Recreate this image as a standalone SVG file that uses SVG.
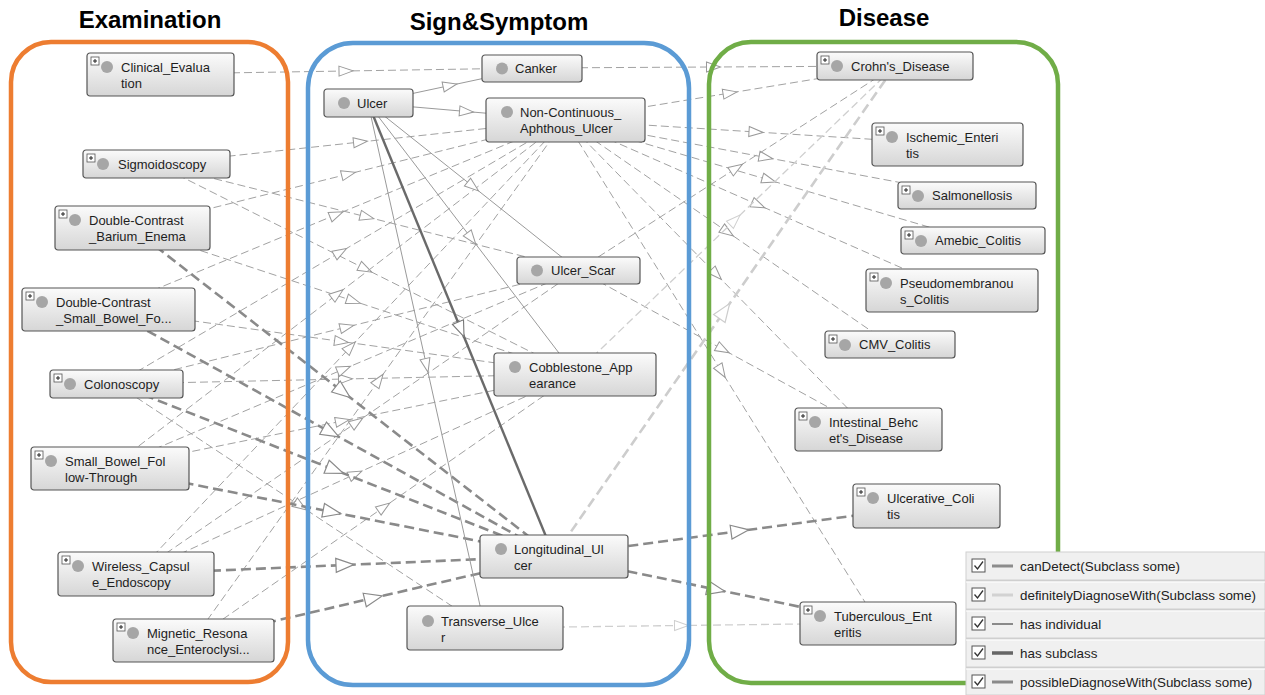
<svg xmlns="http://www.w3.org/2000/svg" xmlns:xlink="http://www.w3.org/1999/xlink" width="1265" height="695" viewBox="0 0 1265 695">
<style>
.cd{fill:none;stroke:#a2a2a2;stroke-width:1;stroke-dasharray:8 4;marker-mid:url(#ma)}
.cdh{fill:none;stroke:#8a8a8a;stroke-width:2.6;stroke-dasharray:10 5;marker-mid:url(#mah)}
.dd{fill:none;stroke:#cfcfcf;stroke-width:1.3;stroke-dasharray:8 4;marker-mid:url(#ml)}
.ddh{fill:none;stroke:#cdcdcd;stroke-width:2.6;stroke-dasharray:10 5;marker-mid:url(#mlh)}
.sc{fill:none;stroke:#9a9a9a;stroke-width:1;marker-mid:url(#ma)}
.sch{fill:none;stroke:#6a6a6a;stroke-width:2.4;marker-mid:url(#mdh)}
.box{fill:url(#g);stroke:#555;stroke-width:1.2}
.dot{fill:#a6a6a6}
.t{font-family:"Liberation Sans",Arial,sans-serif;font-size:13px;fill:#1e1e1e}
.title{font-family:"Liberation Sans",Arial,sans-serif;font-size:24px;font-weight:bold;fill:#000;text-anchor:middle}
.frame{fill:none;stroke-width:4.5}
.lt{font-family:"Liberation Sans",Arial,sans-serif;font-size:13.4px;fill:#222}
</style>
<defs>
<linearGradient id="g" x1="0" y1="0" x2="0" y2="1">
<stop offset="0" stop-color="#fbfbfb"/>
<stop offset="1" stop-color="#d6d6d6"/>
</linearGradient>
<marker id="ma" markerUnits="userSpaceOnUse" markerWidth="18" markerHeight="14" viewBox="-9 -7 18 14" refX="0" refY="0" orient="auto">
<path d="M-7,-5 L7,0 L-7,5 Z" fill="#fff" stroke="#999" stroke-width="1"/>
</marker>
<marker id="mah" markerUnits="userSpaceOnUse" markerWidth="24" markerHeight="20" viewBox="-12 -10 24 20" refX="0" refY="0" orient="auto">
<path d="M-9,-7 L9,0 L-9,7 Z" fill="#fff" stroke="#8a8a8a" stroke-width="1.2"/>
</marker>
<marker id="ml" markerUnits="userSpaceOnUse" markerWidth="18" markerHeight="14" viewBox="-9 -7 18 14" refX="0" refY="0" orient="auto">
<path d="M-7,-5 L7,0 L-7,5 Z" fill="#fff" stroke="#cfcfcf" stroke-width="1"/>
</marker>
<marker id="mlh" markerUnits="userSpaceOnUse" markerWidth="24" markerHeight="20" viewBox="-12 -10 24 20" refX="0" refY="0" orient="auto">
<path d="M-9,-7 L9,0 L-9,7 Z" fill="#fff" stroke="#cdcdcd" stroke-width="1.2"/>
</marker>
<marker id="mdh" markerUnits="userSpaceOnUse" markerWidth="22" markerHeight="18" viewBox="-11 -9 22 18" refX="0" refY="0" orient="auto">
<path d="M-8,-6 L8,0 L-8,6 Z" fill="#fff" stroke="#777" stroke-width="1.1"/>
</marker>
<g id="plus"><rect x="0" y="0" width="8" height="8" fill="#fff" stroke="#555" stroke-width="0.8"/><path d="M2,4H6M4,2V6" stroke="#222" stroke-width="1"/></g>
<g id="chk"><rect x="0" y="0" width="13" height="13" fill="#fff" stroke="#555" stroke-width="1"/><path d="M2.5,6.5 L5.5,10 L11,2.5" fill="none" stroke="#333" stroke-width="1.3"/></g>
</defs>
<rect width="1265" height="695" fill="#fff"/>

<g id="edges">
<path class="cd" d="M160 74 L346 71 L532 68"/>
<path class="cd" d="M156 164 L360.5 142 L565 120"/>
<path class="cd" d="M156 164 L367 217 L578 270"/>
<path class="cd" d="M156 164 L365.5 269 L575 374"/>
<path class="cd" d="M132 228 L348.5 174 L565 120"/>
<path class="cd" d="M132 228 L353.5 301 L575 374"/>
<path class="cd" d="M108 309 L336.5 214.5 L565 120"/>
<path class="cd" d="M108 309 L341.5 341.5 L575 374"/>
<path class="cd" d="M116 384 L340.5 252 L565 120"/>
<path class="cd" d="M116 384 L347 327 L578 270"/>
<path class="cd" d="M116 384 L345.5 379 L575 374"/>
<path class="cd" d="M116 384 L300.5 506 L485 628"/>
<path class="cd" d="M110 468 L337.5 294 L565 120"/>
<path class="cd" d="M110 468 L344 369 L578 270"/>
<path class="cd" d="M110 468 L342.5 421 L575 374"/>
<path class="cd" d="M136 574 L350.5 347 L565 120"/>
<path class="cd" d="M136 574 L357 422 L578 270"/>
<path class="cd" d="M136 574 L355.5 474 L575 374"/>
<path class="cd" d="M193 640 L379 380 L565 120"/>
<path class="cd" d="M193 640 L384 507 L575 374"/>
<path class="cdh" d="M132 228 L343 392 L554 556"/>
<path class="cdh" d="M108 309 L331 432.5 L554 556"/>
<path class="cdh" d="M116 384 L335 470 L554 556"/>
<path class="cdh" d="M110 468 L332 512 L554 556"/>
<path class="cdh" d="M136 574 L345 565 L554 556"/>
<path class="cdh" d="M193 640 L373.5 598 L554 556"/>
<path class="cd" d="M532 68 L713.5 67 L895 66"/>
<path class="cd" d="M565 120 L730 93 L895 66"/>
<path class="cd" d="M565 120 L756 132 L947 144"/>
<path class="cd" d="M565 120 L766 157.5 L967 195"/>
<path class="cd" d="M565 120 L769 180 L973 240"/>
<path class="cd" d="M565 120 L758.5 205 L952 290"/>
<path class="cd" d="M565 120 L727.5 232 L890 344"/>
<path class="cd" d="M565 120 L716.5 274.5 L868 429"/>
<path class="cd" d="M565 120 L721.5 371.5 L878 623"/>
<path class="cd" d="M578 270 L736.5 168 L895 66"/>
<path class="cd" d="M578 270 L723 349.5 L868 429"/>
<path class="cdh" d="M554 556 L740 531 L926 506"/>
<path class="cdh" d="M554 556 L716 589.5 L878 623"/>
<path class="dd" d="M575 374 L735 220 L895 66"/>
<path class="dd" d="M485 628 L681.5 625.5 L878 623"/>
<path class="ddh" d="M554 556 L724.5 311 L895 66"/>
<path class="sc" d="M368 103 L450 85.5 L532 68"/>
<path class="sc" d="M368 103 L466.5 111.5 L565 120"/>
<path class="sc" d="M368 103 L473 186.5 L578 270"/>
<path class="sc" d="M368 103 L471.5 238.5 L575 374"/>
<path class="sc" d="M368 103 L426.5 365.5 L485 628"/>
<path class="sch" d="M368 103 L461 329.5 L554 556"/>
</g>

<g id="n-clinical-evaluation" transform="translate(87,53)"><rect class="box" width="147" height="43" rx="3"/><use href="#plus" x="4" y="4"/><circle class="dot" cx="20" cy="14" r="6"/><text class="t" x="34" y="19">Clinical_Evalua<tspan x="34" dy="16">tion</tspan></text></g>
<g id="n-sigmoidoscopy" transform="translate(83,150)"><rect class="box" width="147" height="28" rx="3"/><use href="#plus" x="4" y="4"/><circle class="dot" cx="20" cy="14" r="6"/><text class="t" x="35" y="19">Sigmoidoscopy</text></g>
<g id="n-dc-barium-enema" transform="translate(55,206)"><rect class="box" width="155" height="44" rx="3"/><use href="#plus" x="4" y="4"/><circle class="dot" cx="20" cy="14" r="6"/><text class="t" x="34" y="19">Double-Contrast<tspan x="34" dy="16">_Barium_Enema</tspan></text></g>
<g id="n-dc-small-bowel" transform="translate(22,288)"><rect class="box" width="173" height="43" rx="3"/><use href="#plus" x="4" y="4"/><circle class="dot" cx="20" cy="14" r="6"/><text class="t" x="34" y="19">Double-Contrast<tspan x="34" dy="16">_Small_Bowel_Fo...</tspan></text></g>
<g id="n-colonoscopy" transform="translate(50,370)"><rect class="box" width="133" height="28" rx="3"/><use href="#plus" x="4" y="4"/><circle class="dot" cx="20" cy="14" r="6"/><text class="t" x="34" y="19">Colonoscopy</text></g>
<g id="n-small-bowel-ft" transform="translate(31,447)"><rect class="box" width="158" height="43" rx="3"/><use href="#plus" x="4" y="4"/><circle class="dot" cx="20" cy="14" r="6"/><text class="t" x="34" y="19">Small_Bowel_Fol<tspan x="34" dy="16">low-Through</tspan></text></g>
<g id="n-wireless-capsule" transform="translate(58,552)"><rect class="box" width="156" height="44" rx="3"/><use href="#plus" x="4" y="4"/><circle class="dot" cx="20" cy="14" r="6"/><text class="t" x="34" y="19">Wireless_Capsul<tspan x="34" dy="16">e_Endoscopy</tspan></text></g>
<g id="n-mignetic-resonance" transform="translate(113,619)"><rect class="box" width="161" height="43" rx="3"/><use href="#plus" x="4" y="4"/><circle class="dot" cx="20" cy="14" r="6"/><text class="t" x="34" y="19">Mignetic_Resona<tspan x="34" dy="16">nce_Enteroclysi...</tspan></text></g>

<g id="n-canker" transform="translate(482,55)"><rect class="box" width="100" height="27" rx="3"/><circle class="dot" cx="20" cy="13.5" r="6"/><text class="t" x="33" y="18">Canker</text></g>
<g id="n-ulcer" transform="translate(324,89)"><rect class="box" width="89" height="28" rx="3"/><circle class="dot" cx="20" cy="14" r="6"/><text class="t" x="33" y="19">Ulcer</text></g>
<g id="n-non-continuous" transform="translate(486,98)"><rect class="box" width="159" height="44" rx="3"/><circle class="dot" cx="21" cy="14" r="6"/><text class="t" x="34" y="19">Non-Continuous_<tspan x="34" dy="16">Aphthous_Ulcer</tspan></text></g>
<g id="n-ulcer-scar" transform="translate(517,257)"><rect class="box" width="123" height="27" rx="3"/><circle class="dot" cx="20" cy="13.5" r="6"/><text class="t" x="34" y="18">Ulcer_Scar</text></g>
<g id="n-cobblestone" transform="translate(494,353)"><rect class="box" width="162" height="43" rx="3"/><circle class="dot" cx="21" cy="14" r="6"/><text class="t" x="35" y="19">Cobblestone_App<tspan x="35" dy="16">earance</tspan></text></g>
<g id="n-longitudinal" transform="translate(480,535)"><rect class="box" width="148" height="43" rx="3"/><circle class="dot" cx="21" cy="14" r="6"/><text class="t" x="34" y="19">Longitudinal_Ul<tspan x="34" dy="16">cer</tspan></text></g>
<g id="n-transverse" transform="translate(407,606)"><rect class="box" width="156" height="44" rx="3"/><circle class="dot" cx="21" cy="15" r="6"/><text class="t" x="34" y="20">Transverse_Ulce<tspan x="34" dy="16">r</tspan></text></g>

<g id="n-crohns" transform="translate(817,52)"><rect class="box" width="156" height="28" rx="3"/><use href="#plus" x="4" y="4"/><circle class="dot" cx="20" cy="14" r="6"/><text class="t" x="34" y="19">Crohn's_Disease</text></g>
<g id="n-ischemic" transform="translate(872,123)"><rect class="box" width="151" height="43" rx="3"/><use href="#plus" x="4" y="4"/><circle class="dot" cx="20" cy="14" r="6"/><text class="t" x="34" y="19">Ischemic_Enteri<tspan x="34" dy="16">tis</tspan></text></g>
<g id="n-salmonellosis" transform="translate(898,182)"><rect class="box" width="138" height="27" rx="3"/><use href="#plus" x="4" y="4"/><circle class="dot" cx="20" cy="14" r="6"/><text class="t" x="34" y="18">Salmonellosis</text></g>
<g id="n-amebic" transform="translate(901,227)"><rect class="box" width="144" height="27" rx="3"/><use href="#plus" x="4" y="4"/><circle class="dot" cx="20" cy="14" r="6"/><text class="t" x="34" y="18">Amebic_Colitis</text></g>
<g id="n-pseudomembranous" transform="translate(866,269)"><rect class="box" width="172" height="43" rx="3"/><use href="#plus" x="4" y="4"/><circle class="dot" cx="20" cy="14" r="6"/><text class="t" x="34" y="19">Pseudomembranou<tspan x="34" dy="16">s_Colitis</tspan></text></g>
<g id="n-cmv" transform="translate(825,331)"><rect class="box" width="130" height="27" rx="3"/><use href="#plus" x="4" y="4"/><circle class="dot" cx="20" cy="14" r="6"/><text class="t" x="34" y="18">CMV_Colitis</text></g>
<g id="n-behcet" transform="translate(795,408)"><rect class="box" width="147" height="43" rx="3"/><use href="#plus" x="4" y="4"/><circle class="dot" cx="20" cy="14" r="6"/><text class="t" x="34" y="19">Intestinal_Behc<tspan x="34" dy="16">et's_Disease</tspan></text></g>
<g id="n-ulcerative" transform="translate(853,484)"><rect class="box" width="147" height="44" rx="3"/><use href="#plus" x="4" y="4"/><circle class="dot" cx="20" cy="14" r="6"/><text class="t" x="34" y="19">Ulcerative_Coli<tspan x="34" dy="16">tis</tspan></text></g>
<g id="n-tuberculous" transform="translate(800,602)"><rect class="box" width="156" height="43" rx="3"/><use href="#plus" x="4" y="4"/><circle class="dot" cx="20" cy="14" r="6"/><text class="t" x="34" y="19">Tuberculous_Ent<tspan x="34" dy="16">eritis</tspan></text></g>

<g id="frames">
<rect class="frame" x="11" y="42" width="277" height="640" rx="40" stroke="#ED7D31"/>
<rect class="frame" x="308" y="43" width="381" height="642" rx="45" stroke="#5B9BD5"/>
<rect class="frame" x="709" y="42" width="349" height="641" rx="42" stroke="#70AD47"/>
</g>
<g id="titles">
<text class="title" x="150" y="28">Examination</text>
<text class="title" x="499" y="30">Sign&amp;Symptom</text>
<text class="title" x="884" y="26">Disease</text>
</g>

<g id="legend">
<rect x="966" y="552" width="299" height="143" fill="#f0f0f0" stroke="#d0d0d0" stroke-width="1"/>
<g stroke="#cfcfcf" stroke-width="2">
<line x1="966" y1="580.5" x2="1265" y2="580.5"/>
<line x1="966" y1="609.5" x2="1265" y2="609.5"/>
<line x1="966" y1="638.5" x2="1265" y2="638.5"/>
<line x1="966" y1="667.5" x2="1265" y2="667.5"/>
</g>
<g stroke="#ffffff" stroke-width="1">
<line x1="966" y1="582" x2="1265" y2="582"/>
<line x1="966" y1="611" x2="1265" y2="611"/>
<line x1="966" y1="640" x2="1265" y2="640"/>
<line x1="966" y1="669" x2="1265" y2="669"/>
</g>
<use href="#chk" x="972" y="559"/>
<use href="#chk" x="972" y="588"/>
<use href="#chk" x="972" y="617"/>
<use href="#chk" x="972" y="646"/>
<use href="#chk" x="972" y="675"/>
<line x1="992" y1="566" x2="1013" y2="566" stroke="#8c8c8c" stroke-width="3"/>
<line x1="992" y1="595" x2="1013" y2="595" stroke="#d2d2d2" stroke-width="3"/>
<line x1="992" y1="624" x2="1013" y2="624" stroke="#8a8a8a" stroke-width="2"/>
<line x1="992" y1="653" x2="1013" y2="653" stroke="#666" stroke-width="3.5"/>
<line x1="992" y1="682" x2="1013" y2="682" stroke="#8a8a8a" stroke-width="3"/>
<text class="lt" x="1020" y="571">canDetect(Subclass some)</text>
<text class="lt" x="1020" y="600">definitelyDiagnoseWith(Subclass some)</text>
<text class="lt" x="1020" y="629">has individual</text>
<text class="lt" x="1020" y="658">has subclass</text>
<text class="lt" x="1020" y="687">possibleDiagnoseWith(Subclass some)</text>
</g>
</svg>
